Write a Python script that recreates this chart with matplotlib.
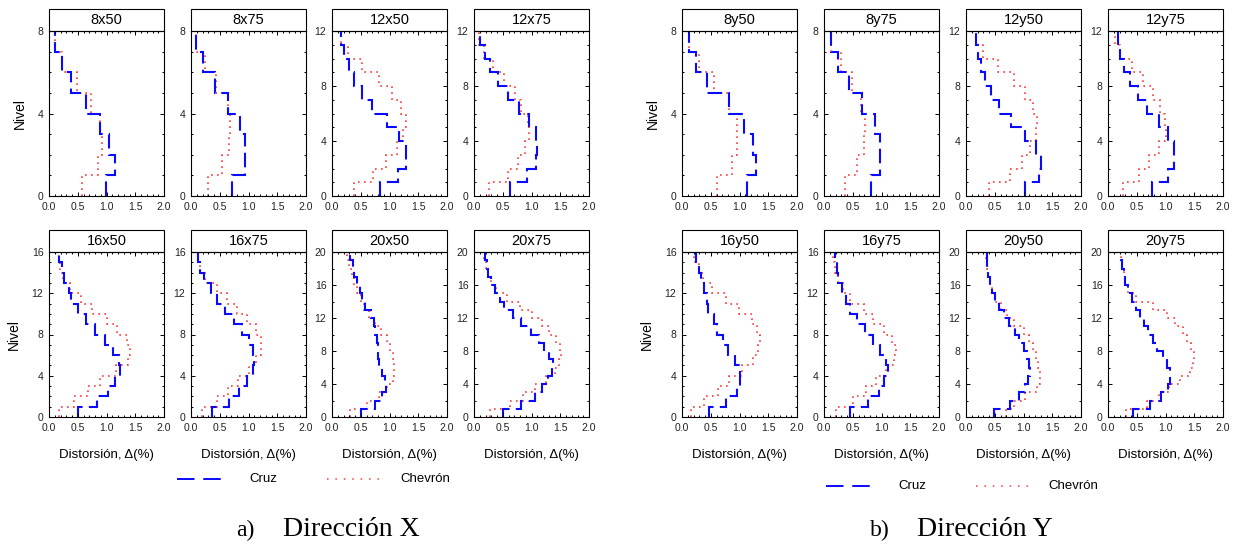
import numpy as np
import matplotlib.pyplot as plt
from matplotlib.patches import Rectangle
from matplotlib.ticker import MultipleLocator

# story drift (%) per story, from level 0 upwards
cruz_8x50 = [0.99, 1.15, 1.05, 0.89, 0.64, 0.385, 0.22, 0.11]
chev_8x50 = [0.58, 0.85, 0.93, 0.89, 0.73, 0.48, 0.22, 0.11]
cruz_8x75 = [0.72, 0.94, 0.94, 0.85, 0.64, 0.41, 0.20, 0.09]
chev_8x75 = [0.29, 0.54, 0.66, 0.68, 0.64, 0.44, 0.25, 0.09]
cruz_12x50 = [0.83, 1.14, 1.28, 1.28, 1.17, 0.95, 0.69, 0.52, 0.39, 0.29, 0.20, 0.15]
chev_12x50 = [0.38, 0.72, 0.94, 1.13, 1.24, 1.28, 1.20, 1.04, 0.82, 0.52, 0.28, 0.15]
cruz_12x75 = [0.62, 0.93, 1.07, 1.10, 1.08, 0.95, 0.78, 0.59, 0.41, 0.28, 0.19, 0.11]
chev_12x75 = [0.26, 0.59, 0.76, 0.88, 0.95, 0.94, 0.82, 0.71, 0.52, 0.33, 0.18, 0.08]
cruz_16x50 = [0.51, 0.83, 1.02, 1.15, 1.23, 1.21, 1.11, 0.97, 0.80, 0.64, 0.50, 0.39,
              0.34, 0.26, 0.23, 0.18]
chev_16x50 = [0.18, 0.44, 0.67, 0.89, 1.17, 1.38, 1.41, 1.35, 1.18, 1.01, 0.75, 0.55,
              0.37, 0.24, 0.19, 0.17]
cruz_16x75 = [0.37, 0.66, 0.84, 0.98, 1.07, 1.10, 1.07, 1.01, 0.89, 0.74, 0.59, 0.46,
              0.35, 0.23, 0.16, 0.13]
chev_16x75 = [0.19, 0.46, 0.65, 0.82, 1.00, 1.13, 1.21, 1.21, 1.13, 0.98, 0.80, 0.63,
              0.45, 0.25, 0.16, 0.12]
cruz_20x50 = [0.51, 0.74, 0.87, 0.94, 0.93, 0.87, 0.81, 0.80, 0.80, 0.78, 0.75, 0.73,
              0.67, 0.58, 0.52, 0.48, 0.44, 0.38, 0.36, 0.31]
chev_20x50 = [0.31, 0.60, 0.82, 0.96, 1.06, 1.08, 1.08, 1.06, 1.01, 0.95, 0.86, 0.75,
              0.65, 0.55, 0.50, 0.43, 0.39, 0.34, 0.30, 0.26]
cruz_20x75 = [0.51, 0.82, 1.06, 1.18, 1.29, 1.36, 1.38, 1.31, 1.22, 1.13, 0.99, 0.82,
              0.67, 0.53, 0.45, 0.37, 0.30, 0.25, 0.22, 0.19]
chev_20x75 = [0.27, 0.62, 0.85, 1.06, 1.25, 1.41, 1.48, 1.52, 1.50, 1.42, 1.30, 1.18,
              1.00, 0.80, 0.57, 0.38, 0.29, 0.24, 0.20, 0.18]

cruz_8y50 = [1.13, 1.29, 1.24, 1.08, 0.81, 0.44, 0.25, 0.13]
chev_8y50 = [0.60, 0.87, 0.95, 0.95, 0.81, 0.55, 0.30, 0.13]
cruz_8y75 = [0.81, 0.97, 0.97, 0.88, 0.66, 0.43, 0.25, 0.13]
chev_8y75 = [0.36, 0.58, 0.70, 0.72, 0.64, 0.48, 0.29, 0.13]
cruz_12y50 = [1.02, 1.27, 1.30, 1.22, 1.03, 0.78, 0.57, 0.43, 0.33, 0.26, 0.21, 0.17]
chev_12y50 = [0.40, 0.76, 0.98, 1.12, 1.22, 1.24, 1.17, 1.03, 0.83, 0.56, 0.29, 0.17]
cruz_12y75 = [0.76, 1.04, 1.14, 1.14, 1.05, 0.88, 0.68, 0.53, 0.39, 0.28, 0.21, 0.17]
chev_12y75 = [0.26, 0.54, 0.72, 0.88, 1.00, 0.99, 0.91, 0.78, 0.60, 0.41, 0.20, 0.12]
cruz_16y50 = [0.47, 0.77, 0.95, 1.00, 1.00, 0.93, 0.80, 0.71, 0.61, 0.55, 0.45, 0.43,
              0.38, 0.33, 0.29, 0.25]
chev_16y50 = [0.16, 0.39, 0.62, 0.82, 1.05, 1.23, 1.33, 1.35, 1.31, 1.22, 0.99, 0.76,
              0.53, 0.36, 0.29, 0.21]
cruz_16y75 = [0.46, 0.77, 0.95, 1.05, 1.11, 1.07, 0.98, 0.86, 0.71, 0.57, 0.45, 0.38,
              0.31, 0.25, 0.22, 0.19]
chev_16y75 = [0.21, 0.50, 0.73, 0.90, 1.07, 1.22, 1.26, 1.19, 1.05, 0.86, 0.69, 0.45,
              0.33, 0.24, 0.19, 0.16]
cruz_20y50 = [0.49, 0.77, 0.93, 1.03, 1.08, 1.12, 1.10, 1.06, 1.00, 0.93, 0.86, 0.75,
              0.66, 0.57, 0.50, 0.45, 0.42, 0.39, 0.37, 0.37]
chev_20y50 = [0.70, 0.83, 1.03, 1.24, 1.29, 1.29, 1.25, 1.22, 1.16, 1.09, 1.00, 0.83,
              0.72, 0.61, 0.51, 0.45, 0.41, 0.38, 0.36, 0.35]
cruz_20y75 = [0.43, 0.73, 0.92, 1.05, 1.08, 1.08, 1.02, 0.96, 0.86, 0.78, 0.70, 0.62,
              0.55, 0.48, 0.41, 0.34, 0.29, 0.27, 0.24, 0.23]
chev_20y75 = [0.31, 0.67, 0.89, 1.06, 1.26, 1.43, 1.47, 1.49, 1.45, 1.38, 1.31, 1.17,
              1.02, 0.79, 0.49, 0.35, 0.30, 0.27, 0.24, 0.23]

titles_x = ["8x50", "8x75", "12x50", "12x75", "16x50", "16x75", "20x50", "20x75"]
titles_y = ["8y50", "8y75", "12y50", "12y75", "16y50", "16y75", "20y50", "20y75"]
cruz_x = [cruz_8x50, cruz_8x75, cruz_12x50, cruz_12x75, cruz_16x50, cruz_16x75, cruz_20x50, cruz_20x75]
chev_x = [chev_8x50, chev_8x75, chev_12x50, chev_12x75, chev_16x50, chev_16x75, chev_20x50, chev_20x75]
cruz_y = [cruz_8y50, cruz_8y75, cruz_12y50, cruz_12y75, cruz_16y50, cruz_16y75, cruz_20y50, cruz_20y75]
chev_y = [chev_8y50, chev_8y75, chev_12y50, chev_12y75, chev_16y50, chev_16y75, chev_20y50, chev_20y75]

plt.rcParams['font.family'] = ['Liberation Sans', 'DejaVu Sans']

W, H = 1237, 545
fig = plt.figure(figsize=(W / 100, H / 100), dpi=100)

blue = '#0a0aff'
red = '#ff3a3a'
dash = (0, (7, 3))
dots = (0, (1, 2.6))

col_left = {'x': [49, 191, 332, 474], 'y': [682, 824, 966, 1108]}
row_top = [31, 252]
aw, ah = 115, 165


def panel(left, top, title, cruz, chev, ylab, xlab):
    ax = fig.add_axes([left / W, 1 - (top + ah) / H, aw / W, ah / H])
    n = len(cruz)
    lev = np.arange(n + 1)
    ax.stairs(chev, lev, orientation='horizontal', baseline=None,
              color=red, lw=1.2, linestyle=dots)
    ax.stairs(cruz, lev, orientation='horizontal', baseline=None,
              color=blue, lw=1.5, linestyle=dash)
    ax.set_xlim(0, 2)
    ax.set_ylim(0, n)
    ax.xaxis.set_major_locator(MultipleLocator(0.5))
    ax.xaxis.set_minor_locator(MultipleLocator(0.1))
    ax.yaxis.set_major_locator(MultipleLocator(4))
    ax.yaxis.set_minor_locator(MultipleLocator(2 if n == 20 else 1))
    ax.xaxis.set_major_formatter(lambda v, p: f"{v:.1f}")
    ax.tick_params(which='both', direction='in', top=True, right=True,
                   labelsize=7.5, width=0.7, labelcolor='#222222')
    ax.tick_params(axis='x', pad=4)
    ax.tick_params(axis='y', pad=4)
    ax.tick_params(which='major', length=3)
    ax.tick_params(which='minor', length=1.5)
    for s in ax.spines.values():
        s.set_linewidth(0.8)
    # title box on top of the axes
    bh = 22 / ah
    ax.add_patch(Rectangle((0, 1), 1, bh, transform=ax.transAxes, clip_on=False,
                           facecolor='white', edgecolor='black', lw=0.8))
    ax.text(0.5, 1 + bh / 2, title, transform=ax.transAxes, ha='center',
            va='center', fontsize=10.5)
    if ylab:
        ax.set_ylabel("Nivel", fontsize=10, labelpad=8)
    if xlab:
        ax.set_xlabel("Distorsión, Δ(%)", fontsize=9.5, labelpad=12)
    return ax


for key, titles, cz, ch in [('x', titles_x, cruz_x, chev_x), ('y', titles_y, cruz_y, chev_y)]:
    for i in range(8):
        r, c = divmod(i, 4)
        panel(col_left[key][c], row_top[r], titles[i], cz[i], ch[i], c == 0, r == 1)

# legends
for (x0, x1, xt, x2, x3, xt2, yy) in [(177, 229, 249, 327, 385, 400, 479),
                                      (826, 878, 898, 976, 1034, 1048, 486)]:
    fy = 1 - yy / H
    fig.add_artist(plt.Line2D([x0 / W, x1 / W], [fy, fy], color=blue, lw=1.4,
                              linestyle=(0, (9, 4.5))))
    fig.text(xt / W, fy, "Cruz", ha='left', va='center', fontsize=9.5)
    fig.add_artist(plt.Line2D([x2 / W, x3 / W], [fy, fy], color=red, lw=1.1,
                              linestyle=(0, (1, 4.5))))
    fig.text(xt2 / W, fy, "Chevrón", ha='left', va='center', fontsize=9.5)

# captions
serif = ['Liberation Serif', 'DejaVu Serif']
fig.text(236 / W, 1 - 530 / H, "a)", fontsize=17, family=serif, va='center')
fig.text(283 / W, 1 - 530 / H, "Dirección X", fontsize=20, family=serif, va='center')
fig.text(870 / W, 1 - 530 / H, "b)", fontsize=17, family=serif, va='center')
fig.text(917 / W, 1 - 530 / H, "Dirección Y", fontsize=20, family=serif, va='center')

fig.savefig("out.png", dpi=100)
